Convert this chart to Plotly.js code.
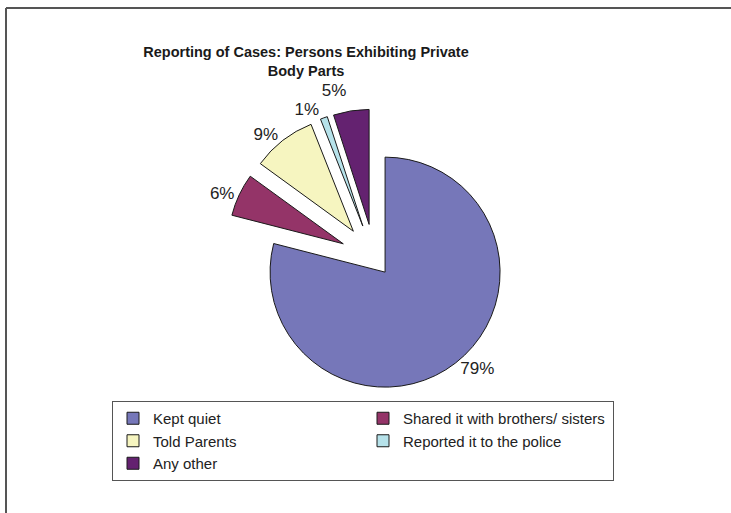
<!DOCTYPE html>
<html>
<head>
<meta charset="utf-8">
<script src="https://cdn.plot.ly/plotly-3.0.1.min.js"></script>
<style>html,body{margin:0;padding:0;background:#fff;}#chart{width:731px;height:513px;}
path.textline{display:none;}</style>
</head>
<body>
<div id="chart"></div>
<script>
const categories = ["Kept quiet", "Shared it with brothers/ sisters", "Told Parents", "Reported it to the police", "Any other"];
const values = [79, 6, 9, 1, 5];
const sliceColors = ["#7677B9", "#943468", "#F6F5C0", "#B6E2EA", "#642270"];
const pulls = [0.15, 0.30, 0.30, 0.30, 0.30];

const W = 731, H = 513, MR = 60;
const PW = W - MR;

const trace = {
  type: "pie",
  labels: categories,
  values: values,
  sort: false,
  direction: "clockwise",
  rotation: 0,
  pull: pulls,
  marker: { colors: sliceColors, line: { color: "#1a1a1a", width: 1 } },
  textinfo: "percent",
  textposition: "outside",
  textfont: { family: "Liberation Sans, Arial, sans-serif", size: 17, color: "#222" },
  domain: { x: [225 / PW, 524 / PW], y: [1 - 408 / H, 1 - 109 / H] },
  hoverinfo: "label+percent"
};

const layout = {
  width: W, height: H,
  margin: { l: 0, r: MR, t: 0, b: 0 },
  paper_bgcolor: "#fff",
  plot_bgcolor: "#fff",
  font: { family: "Liberation Sans, Arial, sans-serif", color: "#222" },
  title: {
    text: "<b>Reporting of Cases: Persons Exhibiting Private<br>Body Parts</b>",
    font: { family: "Liberation Sans, Arial, sans-serif", size: 14.5, color: "#1a1a1a" },
    x: 306 / PW, xref: "paper", xanchor: "center",
    y: 1 - 57 / H, yref: "container", yanchor: "top"
  },
  showlegend: true,
  legend: {
    orientation: "h",
    x: 112 / PW, xanchor: "left",
    y: 1 - 401 / H, yanchor: "top",
    entrywidth: 205,
    entrywidthmode: "pixels",
    bordercolor: "#555",
    borderwidth: 1,
    bgcolor: "#fff",
    font: { family: "Liberation Sans, Arial, sans-serif", size: 15, color: "#222" },
    traceorder: "normal"
  },
  shapes: [
    { type: "line", xref: "paper", yref: "paper",
      x0: 6 / PW, x1: 6 / PW, y0: -0.1, y1: 1 - 8 / H,
      line: { color: "#555", width: 2 }, layer: "below" },
    { type: "line", xref: "paper", yref: "paper",
      x0: 6 / PW, x1: 3, y0: 1 - 8 / H, y1: 1 - 8 / H,
      line: { color: "#555", width: 2 }, layer: "below" }
  ]
};

Plotly.newPlot("chart", [trace], layout, { displayModeBar: false, staticPlot: true });
</script>
</body>
</html>
